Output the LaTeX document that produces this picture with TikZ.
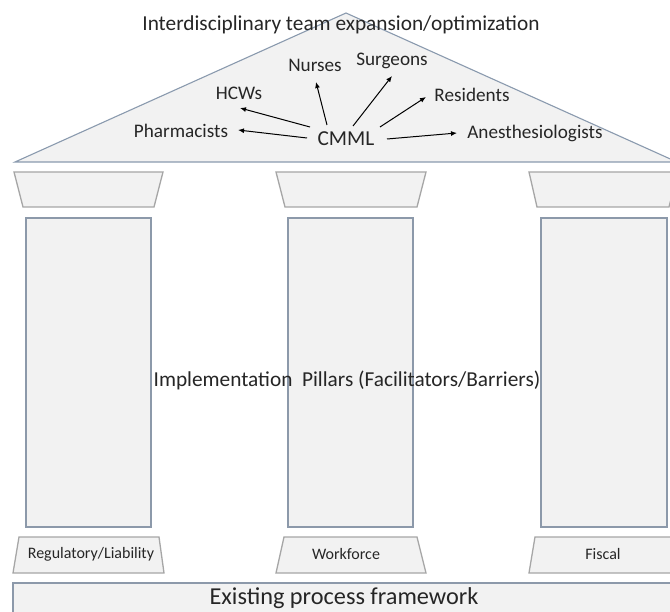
\documentclass[tikz,border=0pt]{standalone}
\usepackage{fontspec}
\setmainfont{Carlito}
\usetikzlibrary{arrows.meta}
\definecolor{fillgray}{HTML}{F2F2F2}
\definecolor{roofline}{HTML}{8A9AAE}
\definecolor{capline}{HTML}{A6A6A6}
\definecolor{pilline}{HTML}{8C99AA}
\definecolor{txt}{HTML}{262626}
\tikzset{
  roof/.style={fill=fillgray,draw=roofline,line width=1.1pt,line join=miter},
  capbox/.style={fill=fillgray,draw=capline,line width=1.3pt},
  pillarbox/.style={fill=fillgray,draw=pilline,line width=1.1pt},
  lbl/.style={inner sep=0pt,text=txt,font=\fontsize{19.2}{22}\selectfont},
  biglbl/.style={inner sep=0pt,text=txt,font=\fontsize{21.3}{24}\selectfont},
  baselbl/.style={inner sep=0pt,text=txt,font=\fontsize{16}{19}\selectfont},
  arr/.style={draw=black,line width=1pt,-{Latex[length=6pt,width=5pt]}}
}
\begin{document}
\begin{tikzpicture}[x=1pt,y=-1pt]
\useasboundingbox (0,0) rectangle (670,612);
\clip (0,0) rectangle (670,612);
\fill[white] (0,0) rectangle (670,612);
% roof
\draw[roof] (15,162) -- (346,13) -- (677,162) -- cycle;
% capitals
\draw[capbox] (14,172) -- (163,172) -- (154,207) -- (23,207) -- cycle;
\draw[capbox] (276,172) -- (426,172) -- (417,207) -- (285,207) -- cycle;
\draw[capbox] (529,172) -- (678,172) -- (669,207) -- (537,207) -- cycle;
% pillars
\draw[pillarbox] (26,218) rectangle (151,527);
\draw[pillarbox] (288,218) rectangle (413,527);
\draw[pillarbox] (541,218) rectangle (667,527);
% bases
\draw[capbox] (19,537) -- (159,537) -- (164,573) -- (13,573) -- cycle;
\draw[capbox] (284,537) -- (417,537) -- (426,573) -- (276,573) -- cycle;
\draw[capbox] (535,537) -- (675,537) -- (680,573) -- (529,573) -- cycle;
% foundation
\draw[pillarbox] (13,583) rectangle (690,640);
% texts
\node[biglbl] (title) at (341,25) {Interdisciplinary team expansion/optimization};
\node[biglbl] (cmml) at (346,139) {CMML};
\node[lbl] (pharm) at (181,131) {Pharmacists};
\node[lbl] (hcw) at (239,93) {HCWs};
\node[lbl] (nurses) at (315,65) {Nurses};
\node[lbl] (surg) at (392,61) {Surgeons};
\node[lbl] (resid) at (472,95) {Residents};
\node[lbl] (anest) at (535,133) {Anesthesiologists};
\node[biglbl] (impl) at (347,380) {Implementation\ \ Pillars (Facilitators/Barriers)};
\node[baselbl] (reg) at (91,554) {Regulatory/Liability};
\node[baselbl] (work) at (346,554) {Workforce};
\node[baselbl] (fisc) at (603,554) {Fiscal};
\node[inner sep=0pt,text=txt,font=\fontsize{24.3}{28}\selectfont] (exist) at (344,598) {Existing process framework};
% arrows
\draw[arr] ([shift={(-39,-1)}]cmml.center) -- ([shift={(57,-1)}]pharm.center);
\draw[arr] ([shift={(-36,-12)}]cmml.center) -- ([shift={(1,15)}]hcw.center);
\draw[arr] ([shift={(-19,-14)}]cmml.center) -- ([shift={(1,17)}]nurses.center);
\draw[arr] ([shift={(7,-13)}]cmml.center) -- ([shift={(0,15)}]surg.center);
\draw[arr] ([shift={(34,-12)}]cmml.center) -- ([shift={(-46,2)}]resid.center);
\draw[arr] ([shift={(41,0)}]cmml.center) -- ([shift={(-78,0)}]anest.center);
\end{tikzpicture}
\end{document}
